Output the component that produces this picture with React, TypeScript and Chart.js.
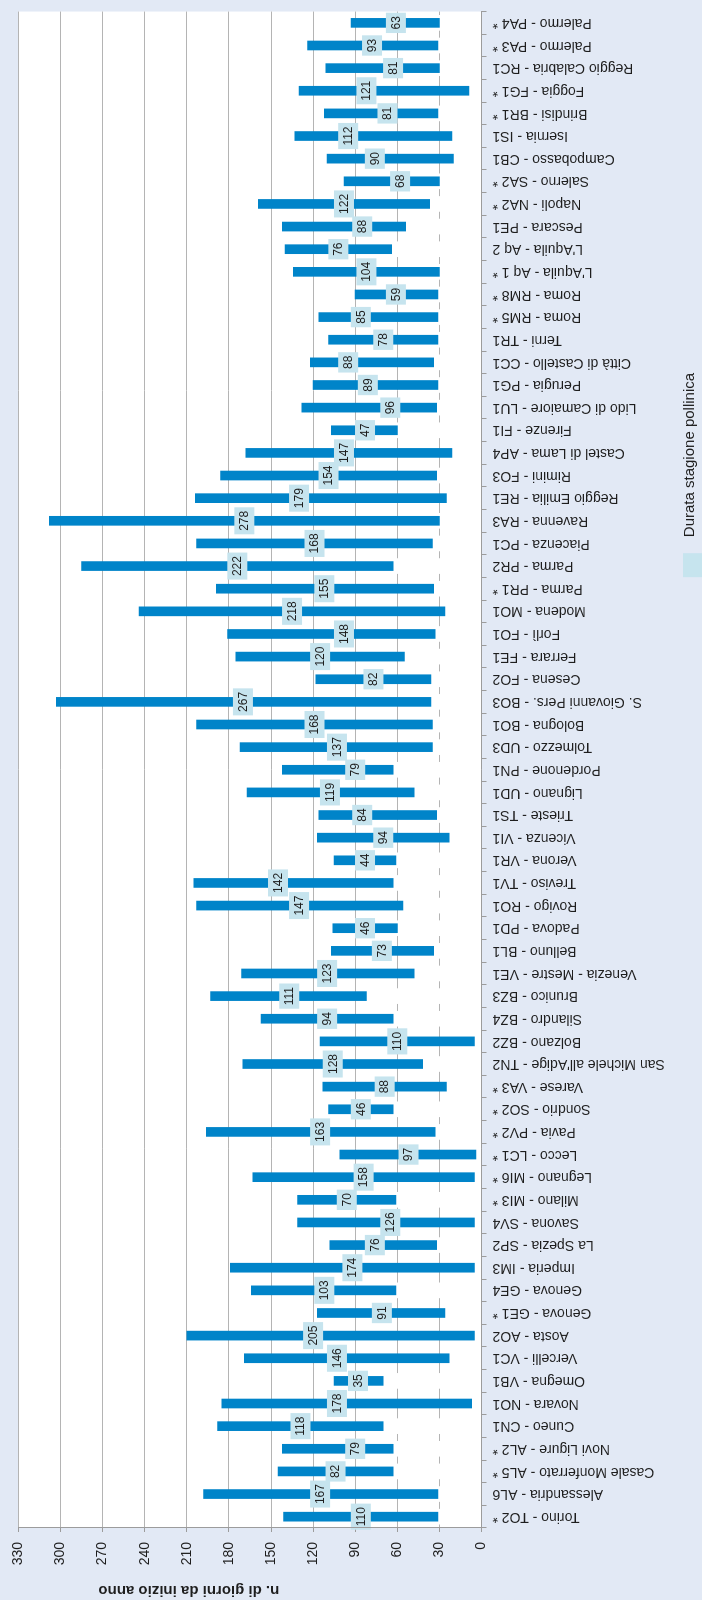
import React, { useEffect, useRef } from "react";
import { Chart, registerables } from "chart.js";

Chart.register(...registerables);

// ---- data ----
const categories: string[] = [
  "Torino - TO2 *", "Alessandria - AL6", "Casale Monferrato - AL5 *", "Novi Ligure - AL2 *", "Cuneo - CN1",
  "Novara - NO1", "Omegna - VB1", "Vercelli - VC1", "Aosta - AO2", "Genova - GE1 *",
  "Genova - GE4", "Imperia - IM3", "La Spezia - SP2", "Savona - SV4", "Milano - MI3 *",
  "Legnano - MI6 *", "Lecco - LC1 *", "Pavia - PV2 *", "Sondrio - SO2 *", "Varese - VA3 *",
  "San Michele all'Adige - TN2", "Bolzano - BZ2", "Silandro - BZ4", "Brunico - BZ3", "Venezia - Mestre - VE1",
  "Belluno - BL1", "Padova - PD1", "Rovigo - RO1", "Treviso - TV1", "Verona - VR1",
  "Vicenza - VI1", "Trieste - TS1", "Lignano - UD1", "Pordenone - PN1", "Tolmezzo - UD3",
  "Bologna - BO1", "S. Giovanni Pers. - BO3", "Cesena - FO2", "Ferrara - FE1", "Forlì - FO1",
  "Modena - MO1", "Parma - PR1 *", "Parma - PR2", "Piacenza - PC1", "Ravenna - RA3",
  "Reggio Emilia - RE1", "Rimini - FO3", "Castel di Lama - AP4", "Firenze - FI1", "Lido di Camaiore - LU1",
  "Perugia - PG1", "Città di Castello - CC1", "Terni - TR1", "Roma - RM5 *", "Roma - RM8 *",
  "L'Aquila - Aq 1 *", "L'Aquila - Aq 2", "Pescara - PE1", "Napoli - NA2 *", "Salerno - SA2 *",
  "Campobasso - CB1", "Isernia - IS1", "Brindisi - BR1 *", "Foggia - FG1 *", "Reggio Calabria - RC1",
  "Palermo - PA3 *", "Palermo - PA4 *",
];

// day of year on which the pollen season starts
const startDay: number[] = [
  31, 31, 63, 63, 70, 7, 70, 23, 5, 26,
  61, 5, 32, 5, 61, 5, 4, 33, 63, 25,
  42, 5, 63, 82, 48, 34, 60, 56, 63, 61,
  23, 32, 48, 63, 35, 35, 36, 36, 55, 33,
  26, 34, 63, 35, 30, 25, 32, 21, 60, 32,
  31, 34, 31, 31, 31, 30, 64, 54, 37, 30,
  20, 21, 31, 9, 30, 31, 30,
];

// day of year on which the pollen season ends
const endDay: number[] = [
  141, 198, 145, 142, 188, 185, 105, 169, 210, 117,
  164, 179, 108, 131, 131, 163, 101, 196, 109, 113,
  170, 115, 157, 193, 171, 107, 106, 203, 205, 105,
  117, 116, 167, 142, 172, 203, 303, 118, 175, 181,
  244, 189, 285, 203, 308, 204, 186, 168, 107, 128,
  120, 122, 109, 116, 90, 134, 140, 142, 159, 98,
  110, 133, 112, 130, 111, 124, 93,
];

// "Durata stagione pollinica" (days), shown as labels
const duration: number[] = [
  110, 167, 82, 79, 118, 178, 35, 146, 205, 91,
  103, 174, 76, 126, 70, 158, 97, 163, 46, 88,
  128, 110, 94, 111, 123, 73, 46, 147, 142, 44,
  94, 84, 119, 79, 137, 168, 267, 82, 120, 148,
  218, 155, 222, 168, 278, 179, 154, 147, 47, 96,
  89, 88, 78, 85, 59, 104, 76, 88, 122, 68,
  90, 112, 81, 121, 81, 93, 63,
];

// value (day) at which each duration label sits
const labelAt: number[] = [
  86, 115, 104, 90, 129, 103, 88, 103, 120, 71,
  112, 92, 76, 65, 96, 84, 52, 115, 86, 69,
  106, 60, 110, 137, 110, 71, 83, 130, 145, 83,
  70, 85, 108, 90, 103, 119, 170, 77, 115, 98,
  135, 112, 174, 119, 169, 130, 109, 98, 83, 65,
  81, 95, 70, 86, 61, 82, 102, 85, 98, 58,
  76, 95, 67, 82, 63, 78, 61,
];

const axisTitle = "n. di giorni da inizio anno";
const seriesName = "Durata stagione pollinica";
const dayMin = 0;
const dayMax = 330;
const dayStep = 30;

// ---- styles ----
const FONT = "'Liberation Sans', Arial, Helvetica, sans-serif";
const PAGE_BG = "#E2E9F5";
const BLUE = "#0084C9";
const LABEL_BG = "#C6E4EE";
const GRID = "#B4B4B4";
const AXIS = "#9C9C9C";
const TEXT = "#1E1E1E";

const W = 1600;
const H = 702;

const plotBg = {
  id: "plotBg",
  beforeDraw(chart: any) {
    const { ctx, chartArea: a } = chart;
    ctx.save();
    ctx.fillStyle = "#FFFFFF";
    ctx.fillRect(a.left, a.top, a.right - a.left, a.bottom - a.top);
    ctx.restore();
  },
};

const durationLabels = {
  id: "durationLabels",
  afterDatasetsDraw(chart: any) {
    const { ctx } = chart;
    const xs = chart.scales.x;
    const ys = chart.scales.y;
    ctx.save();
    ctx.font = `12px ${FONT}`;
    ctx.textAlign = "center";
    ctx.textBaseline = "middle";
    duration.forEach((d, i) => {
      const x = xs.getPixelForValue(i);
      const y = ys.getPixelForValue(labelAt[i]);
      const t = String(d);
      const w = ctx.measureText(t).width + 7;
      const h = 20;
      ctx.fillStyle = LABEL_BG;
      ctx.fillRect(x - w / 2, y - h / 2, w, h);
      ctx.fillStyle = TEXT;
      ctx.fillText(t, x, y + 0.5);
    });
    ctx.restore();
  },
};

const sideTitle = {
  id: "sideTitle",
  afterDraw(chart: any) {
    const { ctx, chartArea: a } = chart;
    ctx.save();
    ctx.font = `bold 15px ${FONT}`;
    ctx.fillStyle = TEXT;
    ctx.textAlign = "center";
    ctx.textBaseline = "middle";
    ctx.translate(10, a.top + (a.bottom - a.top) * 0.368);
    ctx.rotate(-Math.PI / 2);
    ctx.fillText(axisTitle, 0, 0);
    ctx.restore();
  },
};

const sideLegend = {
  id: "sideLegend",
  afterDraw(chart: any) {
    const { ctx, chartArea: a, height } = chart;
    const x = a.left + (a.right - a.left) * 0.627;
    const boxW = 24;
    const boxH = 19;
    ctx.save();
    ctx.fillStyle = LABEL_BG;
    ctx.fillRect(x, height - boxH, boxW, boxH);
    ctx.font = `15px ${FONT}`;
    ctx.fillStyle = TEXT;
    ctx.textAlign = "left";
    ctx.textBaseline = "middle";
    ctx.fillText(seriesName, x + boxW + 16, height - 12);
    ctx.restore();
  },
};

export default function App() {
  const ref = useRef<HTMLCanvasElement | null>(null);

  useEffect(() => {
    if (!ref.current) return;
    Chart.defaults.font.family = FONT;
    const chart = new Chart(ref.current, {
      type: "bar",
      data: {
        labels: categories,
        datasets: [
          {
            label: "inizio",
            data: startDay,
            backgroundColor: "#FFFFFF",
            barThickness: 15,
            grouped: false,
            order: 2,
          } as any,
          {
            label: seriesName,
            data: startDay.map((s, i) => [s, endDay[i]]),
            backgroundColor: BLUE,
            barThickness: 9,
            grouped: false,
            order: 1,
          } as any,
        ],
      },
      options: {
        responsive: false,
        animation: false,
        devicePixelRatio: 1,
        layout: { padding: { top: 16, right: 8, left: 0, bottom: 0 } },
        plugins: {
          legend: { display: false },
          tooltip: { enabled: false },
        },
        scales: {
          x: {
            grid: {
              drawOnChartArea: false,
              drawTicks: true,
              tickLength: 5,
              color: AXIS,
              offset: true,
            },
            border: { color: AXIS, z: 1 },
            ticks: {
              autoSkip: false,
              minRotation: 90,
              maxRotation: 90,
              padding: 6,
              color: TEXT,
              font: { size: 14, family: FONT },
            },
            afterFit: (s: any) => {
              s.height = 220.5;
            },
          },
          y: {
            min: dayMin,
            max: dayMax,
            grid: { color: GRID, tickLength: 4, tickColor: AXIS },
            border: { color: AXIS, z: 1 },
            ticks: {
              stepSize: dayStep,
              padding: 10,
              color: TEXT,
              font: { size: 14, family: FONT },
            },
            afterFit: (s: any) => {
              s.width = 72;
            },
          },
        },
      } as any,
      plugins: [plotBg, durationLabels, sideTitle, sideLegend],
    });
    return () => chart.destroy();
  }, []);

  return (
    <div
      style={{
        position: "absolute",
        left: 0,
        top: 0,
        width: H,
        height: W,
        background: PAGE_BG,
        overflow: "hidden",
      }}
    >
      <div
        style={{
          position: "absolute",
          left: 0,
          top: 0,
          width: W,
          height: H,
          transformOrigin: "0 0",
          transform: `translate(0px, ${W}px) rotate(-90deg)`,
        }}
      >
        <canvas ref={ref} width={W} height={H} style={{ display: "block", width: W, height: H }} />
      </div>
    </div>
  );
}
